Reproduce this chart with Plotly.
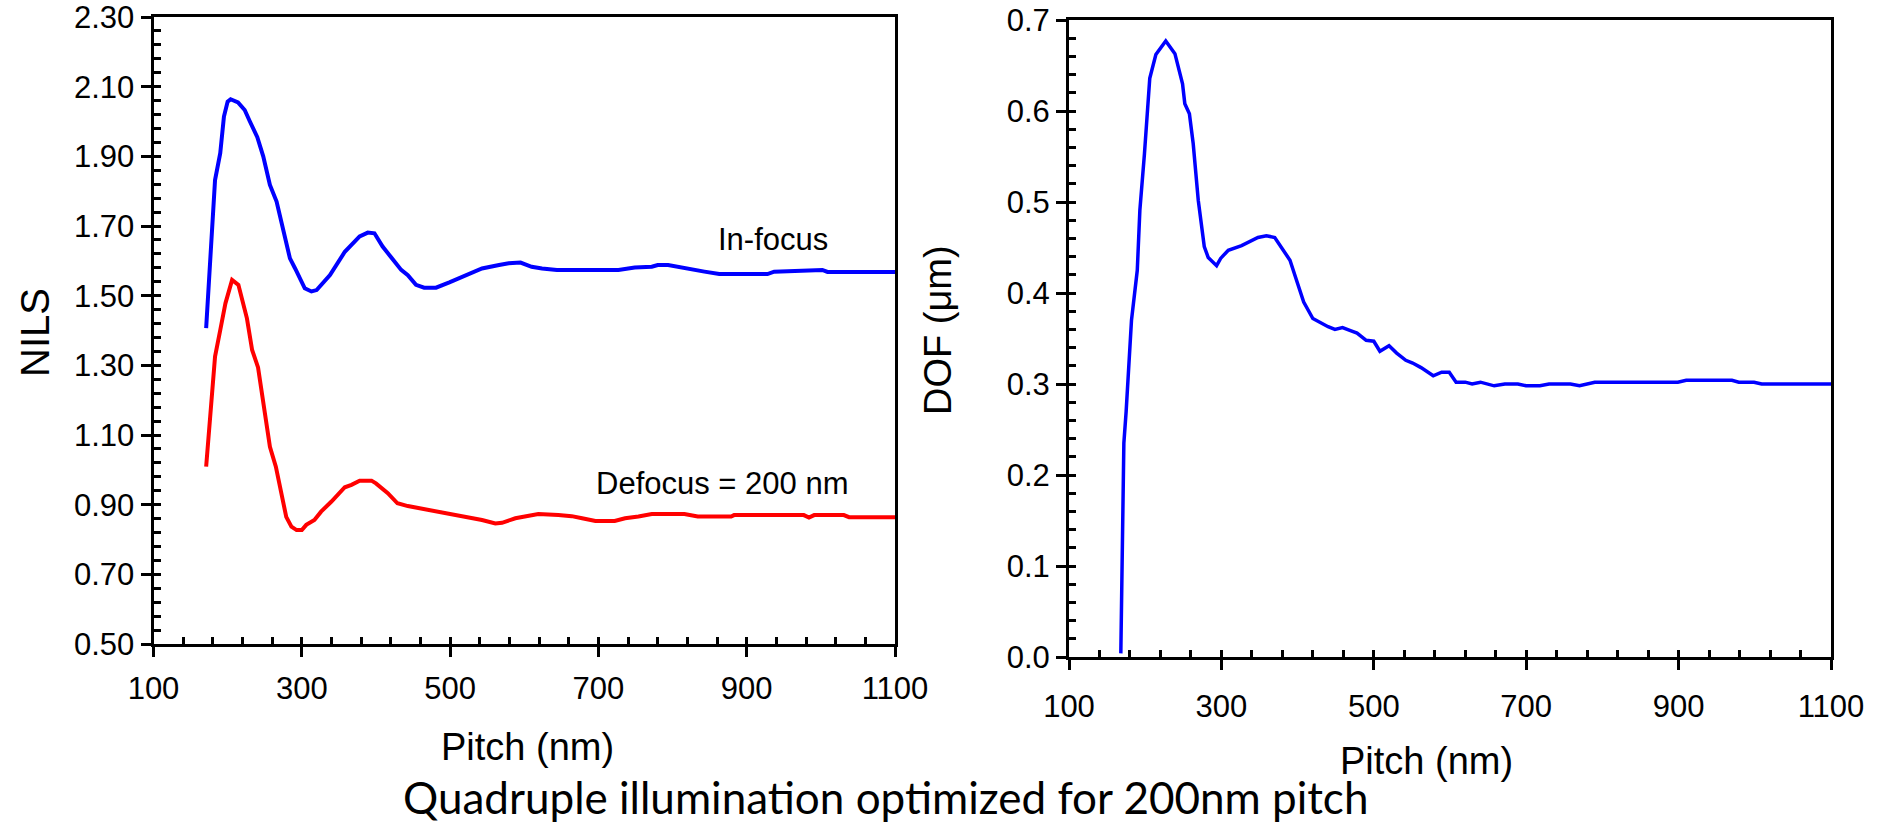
import plotly.graph_objects as go

# ---------------- data ----------------
nils_pitch_in = [171, 183, 190, 195, 200, 204, 214, 223, 230, 240, 248, 257, 266, 275, 284, 291,
                 304, 313, 320, 338, 358, 378, 389, 398, 409, 418, 434, 443, 454, 465, 481, 499,
                 516, 532, 543, 566, 579, 595, 610, 624, 644, 727, 736, 749, 772, 780, 794, 810,
                 825, 843, 863, 928, 937, 968, 1002, 1009, 1100]
nils_in_focus = [1.407, 1.832, 1.909, 2.014, 2.057, 2.064, 2.055, 2.033, 2.000, 1.955, 1.900, 1.818,
                 1.770, 1.689, 1.607, 1.578, 1.521, 1.512, 1.516, 1.559, 1.626, 1.670, 1.681, 1.679,
                 1.641, 1.617, 1.574, 1.559, 1.531, 1.523, 1.523, 1.538, 1.553, 1.569, 1.578, 1.588,
                 1.593, 1.595, 1.583, 1.578, 1.574, 1.574, 1.578, 1.581, 1.583, 1.588, 1.588, 1.581,
                 1.577, 1.569, 1.562, 1.562, 1.569, 1.571, 1.574, 1.568, 1.568]

nils_pitch_def = [171, 176.5, 183, 190, 197, 206, 214.5, 226, 233, 241, 250, 257, 265, 273, 279, 286,
                  293, 300, 306, 317, 326, 340, 358, 367, 378, 394, 400, 416, 429, 443, 458, 472,
                  485, 503, 521, 543, 561, 570, 588, 610, 619, 646, 664, 678, 696, 722, 736, 754,
                  772, 816, 834, 879, 883, 977, 984, 991, 1031, 1038, 1100]
nils_defocus = [1.009, 1.172, 1.325, 1.401, 1.478, 1.545, 1.531, 1.435, 1.344, 1.294, 1.172, 1.066,
                1.009, 0.933, 0.865, 0.837, 0.827, 0.827, 0.842, 0.856, 0.880, 0.909, 0.950, 0.957,
                0.969, 0.969, 0.961, 0.933, 0.904, 0.896, 0.890, 0.885, 0.878, 0.872, 0.864, 0.856,
                0.846, 0.848, 0.861, 0.870, 0.873, 0.870, 0.867, 0.861, 0.853, 0.853, 0.861, 0.866,
                0.873, 0.873, 0.866, 0.866, 0.870, 0.870, 0.863, 0.870, 0.870, 0.864, 0.864]

dof_pitch = [168, 170.4, 172, 175, 182, 189.6, 193, 199, 206, 214, 227, 239, 249, 252, 258, 263,
             269.6, 277.5, 282.7, 293.7, 299, 309, 326.5, 348, 359, 370, 390, 398.6, 408, 420, 431,
             440, 449, 459, 468.5, 478, 490, 500, 508, 520, 530, 542, 551, 562, 578, 589, 599, 608,
             620, 629, 640, 658, 672, 689, 700, 718, 730, 758, 770, 790, 899, 910, 970, 979, 999,
             1009, 1100]
dof_um = [0.004, 0.136, 0.235, 0.270, 0.370, 0.425, 0.491, 0.553, 0.636, 0.662, 0.677, 0.663, 0.630,
          0.608, 0.597, 0.564, 0.502, 0.451, 0.439, 0.430, 0.438, 0.447, 0.452, 0.461, 0.463, 0.461,
          0.436, 0.414, 0.390, 0.372, 0.367, 0.363, 0.360, 0.362, 0.359, 0.356, 0.348, 0.347, 0.336,
          0.342, 0.334, 0.326, 0.323, 0.318, 0.309, 0.313, 0.313, 0.302, 0.302, 0.300, 0.302, 0.298,
          0.300, 0.300, 0.298, 0.298, 0.300, 0.300, 0.298, 0.302, 0.302, 0.304, 0.304, 0.302, 0.302,
          0.300, 0.300]

x_major = [100, 300, 500, 700, 900, 1100]
x_minor = list(range(100, 1101, 40))
nils_major = [0.50, 0.70, 0.90, 1.10, 1.30, 1.50, 1.70, 1.90, 2.10, 2.30]
nils_minor = [round(0.50 + 0.04 * i, 2) for i in range(46)]
dof_major = [0.0, 0.1, 0.2, 0.3, 0.4, 0.5, 0.6, 0.7]
dof_minor = [round(0.02 * i, 2) for i in range(36)]

# ---------------- figure ----------------
W, H = 1884, 824
FONT = "Liberation Sans, Arial, sans-serif"

def px_x(p):
    return p / W

def px_y(p):
    return 1 - p / H

left_x = [px_x(153.5), px_x(895)]
left_y = [px_y(644), px_y(17)]
right_x = [px_x(1069), px_x(1831)]
right_y = [px_y(657), px_y(20)]

fig = go.Figure()
fig.add_trace(go.Scatter(x=nils_pitch_in, y=nils_in_focus, mode="lines",
                         line=dict(color="#0000FF", width=4), xaxis="x", yaxis="y"))
fig.add_trace(go.Scatter(x=nils_pitch_def, y=nils_defocus, mode="lines",
                         line=dict(color="#FF0000", width=4), xaxis="x", yaxis="y"))
fig.add_trace(go.Scatter(x=dof_pitch, y=dof_um, mode="lines",
                         line=dict(color="#0000FF", width=3.5), xaxis="x2", yaxis="y2"))
# helper traces so the overlay (inside-tick) axes are drawn
fig.add_trace(go.Scatter(x=[None], y=[None], xaxis="x3", yaxis="y", showlegend=False))
fig.add_trace(go.Scatter(x=[None], y=[None], xaxis="x", yaxis="y3", showlegend=False))
fig.add_trace(go.Scatter(x=[None], y=[None], xaxis="x4", yaxis="y2", showlegend=False))
fig.add_trace(go.Scatter(x=[None], y=[None], xaxis="x2", yaxis="y4", showlegend=False))

tickfont = dict(family=FONT, size=31, color="black")

def main_axis(domain, anchor, rng, vals, fmt, standoff):
    return dict(domain=domain, anchor=anchor, range=rng, tickmode="array", tickvals=vals,
                tickformat=fmt, ticks="outside", ticklen=10, tickwidth=3, tickcolor="black",
                showline=True, linewidth=3, linecolor="black", mirror=True, automargin=False,
                showgrid=False, zeroline=False, tickfont=tickfont, ticklabelstandoff=standoff,
                ticklabeloverflow="allow")

def inner_axis(overlay, anchor, rng, vals, side):
    return dict(overlaying=overlay, anchor=anchor, range=rng, tickmode="array", tickvals=vals,
                ticks="inside", ticklen=7, tickwidth=2.5, tickcolor="black", side=side,
                automargin=False, showticklabels=False, showline=False, showgrid=False,
                zeroline=False)

fig.update_layout(
    template="none",
    width=W, height=H, margin=dict(l=0, r=0, t=0, b=0, autoexpand=False),
    paper_bgcolor="white", plot_bgcolor="white", showlegend=False,
    xaxis=main_axis(left_x, "y", [100, 1100], x_major, "d", 5),
    yaxis=main_axis(left_y, "x", [0.5, 2.3], nils_major, ".2f", 0),
    xaxis2=main_axis(right_x, "y2", [100, 1100], x_major, "d", 10),
    yaxis2=main_axis(right_y, "x2", [0.0, 0.7], dof_major, ".1f", 0),
    xaxis3=inner_axis("x", "y", [100, 1100], x_minor, "bottom"),
    yaxis3=inner_axis("y", "x", [0.5, 2.3], nils_minor, "left"),
    xaxis4=inner_axis("x2", "y2", [100, 1100], x_minor, "bottom"),
    yaxis4=inner_axis("y2", "x2", [0.0, 0.7], dof_minor, "left"),
)

ann = [
    dict(text="NILS", x=px_x(35), y=px_y(333), textangle=-90, size=40, fam=FONT),
    dict(text="DOF (μm)", x=px_x(938), y=px_y(330), textangle=-90, size=38, fam=FONT),
    dict(text="Pitch (nm)", x=px_x(527), y=px_y(747), textangle=0, size=38, fam=FONT),
    dict(text="Pitch (nm)", x=px_x(1426), y=px_y(761), textangle=0, size=38, fam=FONT),
    dict(text="In-focus", x=px_x(773), y=px_y(240), textangle=0, size=31, fam=FONT),
    dict(text="Defocus = 200 nm", x=px_x(722), y=px_y(484), textangle=0, size=31, fam=FONT),
    dict(text="Quadruple illumination optimized for 200nm pitch", x=px_x(885), y=px_y(797),
         textangle=0, size=44, fam="Lato, Open Sans, sans-serif"),
]
for a in ann:
    fig.add_annotation(text=a["text"], x=a["x"], y=a["y"], xref="paper", yref="paper",
                       xanchor="center", yanchor="middle", showarrow=False, textangle=a["textangle"],
                       font=dict(family=a["fam"], size=a["size"], color="black"))

fig.write_html(
    "out.html",
    config={"displayModeBar": False},
    post_script="document.body.style.margin='0';document.body.style.overflow='hidden';",
)
